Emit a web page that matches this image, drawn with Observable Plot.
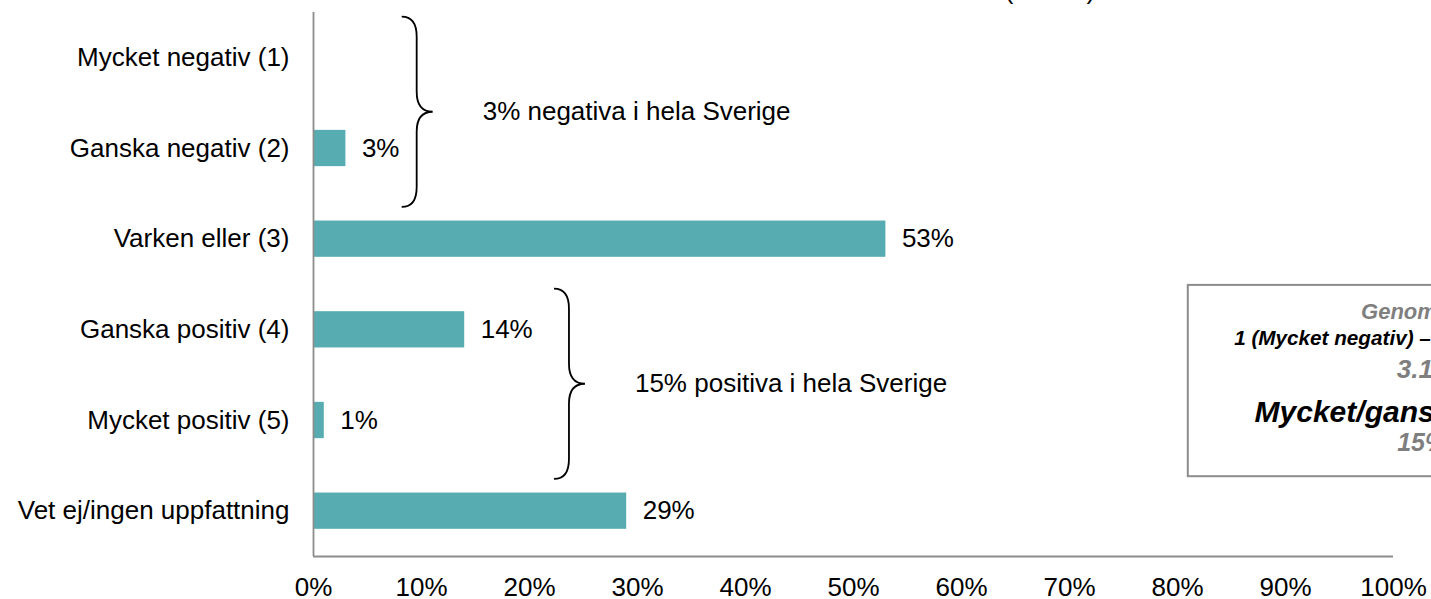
<!DOCTYPE html>
<html><head><meta charset="utf-8">
<script src="https://cdn.jsdelivr.net/npm/d3@7"></script>
<script src="https://cdn.jsdelivr.net/npm/@observablehq/plot@0.6"></script>
<style>
html,body{margin:0;padding:0;background:#fff;overflow:hidden}
#chart svg{display:block;margin-top:-20px}
</style></head><body><div id="chart"></div>
<script>
// ---- data ----
const categories = ["Mycket negativ (1)", "Ganska negativ (2)", "Varken eller (3)", "Ganska positiv (4)", "Mycket positiv (5)", "Vet ej/ingen uppfattning"];
const values = [0, 3, 53, 14, 1, 29];
const xTicks = [0, 10, 20, 30, 40, 50, 60, 70, 80, 90, 100];
const braceLabels = ["3% negativa i hela Sverige", "15% positiva i hela Sverige"];
const braceRows = [[0, 1], [3, 4]];
const summaryLines = ["Genomsnitt", "1 (Mycket negativ) – 5 (Mycket positiv)", "3.18", "Mycket/ganska positiva", "15%"];
const topNote = "(n=800)";

// ---- layout / style ----
const FONT = "'Liberation Sans', Arial, Helvetica, sans-serif";
const FS = 26;
const BAR = "#56acb0";
const AXIS = "#8c8c8c";
const GREY_TEXT = "#7f7f7f";
const braceX = [9.6, 23.7];
const box = {x1: 81, row1: 2.51, row2: 4.62, cx: 102.7};
const summaryStyle = [
  {size: 22, fill: GREY_TEXT, dy: 34},
  {size: 20.7, fill: "#000", dy: 60},
  {size: 26, fill: GREY_TEXT, dy: 93},
  {size: 30, fill: "#000", dy: 137},
  {size: 25, fill: GREY_TEXT, dy: 166}
];

const data = categories.map((c, i) => ({c, i, v: values[i]}));

function annotations(index, scales, vals, dims) {
  const {x, y} = scales;
  const g = d3.create("svg:g").attr("font-family", FONT).attr("text-anchor", "start");
  const step = Math.abs(y(1) - y(0));
  braceRows.forEach(([a, b], k) => {
    const xv = x(braceX[k]), xl = xv - 15, xt = xv + 16;
    const top = y(a) - 0.45 * step, bot = y(b) + 0.65 * step, mid = (top + bot) / 2, r = 20;
    const p = `M${xl},${top} Q${xv},${top} ${xv},${top + r} L${xv},${mid - r} Q${xv},${mid} ${xt},${mid} Q${xv},${mid} ${xv},${mid + r} L${xv},${bot - r} Q${xv},${bot} ${xl},${bot}`;
    g.append("path").attr("d", p).attr("fill", "none").attr("stroke", "#000").attr("stroke-width", 1.8);
    g.append("text").attr("x", xt + 50).attr("y", mid).attr("dy", "0.32em").attr("text-anchor", "start")
      .attr("font-size", FS).attr("fill", "#000").text(braceLabels[k]);
  });
  // summary box
  const bx = x(box.x1), by1 = y(box.row1), by2 = y(box.row2);
  g.append("rect").attr("x", bx).attr("y", by1).attr("width", 600).attr("height", by2 - by1)
    .attr("fill", "#fff").attr("stroke", AXIS).attr("stroke-width", 2);
  summaryLines.forEach((t, k) => {
    const s = summaryStyle[k];
    g.append("text").attr("x", x(box.cx)).attr("y", by1 + s.dy).attr("text-anchor", "middle")
      .attr("font-size", s.size).attr("font-weight", "bold").attr("font-style", "italic")
      .attr("fill", s.fill).text(t);
  });
  // top note (mostly above the visible area)
  g.append("text").attr("x", x(64.05)).attr("y", dims.marginTop - 13.5).attr("text-anchor", "start")
    .attr("font-size", FS).attr("fill", "#000").text(topNote);
  return g.node();
}

const chart = Plot.plot({
  width: 1431,
  height: 619,
  marginTop: 32,
  marginBottom: 43,
  marginLeft: 313,
  marginRight: 38,
  style: {fontFamily: FONT, fontSize: FS + "px", color: "#000", background: "#fff", overflow: "hidden"},
  x: {domain: [0, 100], ticks: xTicks, tickFormat: d => d + "%", tickSize: 0, tickPadding: 21.5, label: null},
  y: {domain: [-0.5, 5.5], reverse: true, ticks: d3.range(categories.length), tickFormat: i => categories[i], tickSize: 0, tickPadding: 24, label: null},
  marks: [
    Plot.rect(data, {x1: 0, x2: "v", y1: d => d.i - 0.2, y2: d => d.i + 0.2, fill: BAR}),
    Plot.text(data.filter(d => d.v > 0), {x: "v", y: "i", text: d => d.v + "%", dx: 16, textAnchor: "start", fontSize: FS, fill: "#000"}),
    Plot.ruleX([0], {stroke: AXIS, strokeWidth: 1.8}),
    Plot.ruleY([5.5], {stroke: AXIS, strokeWidth: 1.8}),
    annotations
  ]
});
document.getElementById("chart").appendChild(chart);
</script>
</body></html>
